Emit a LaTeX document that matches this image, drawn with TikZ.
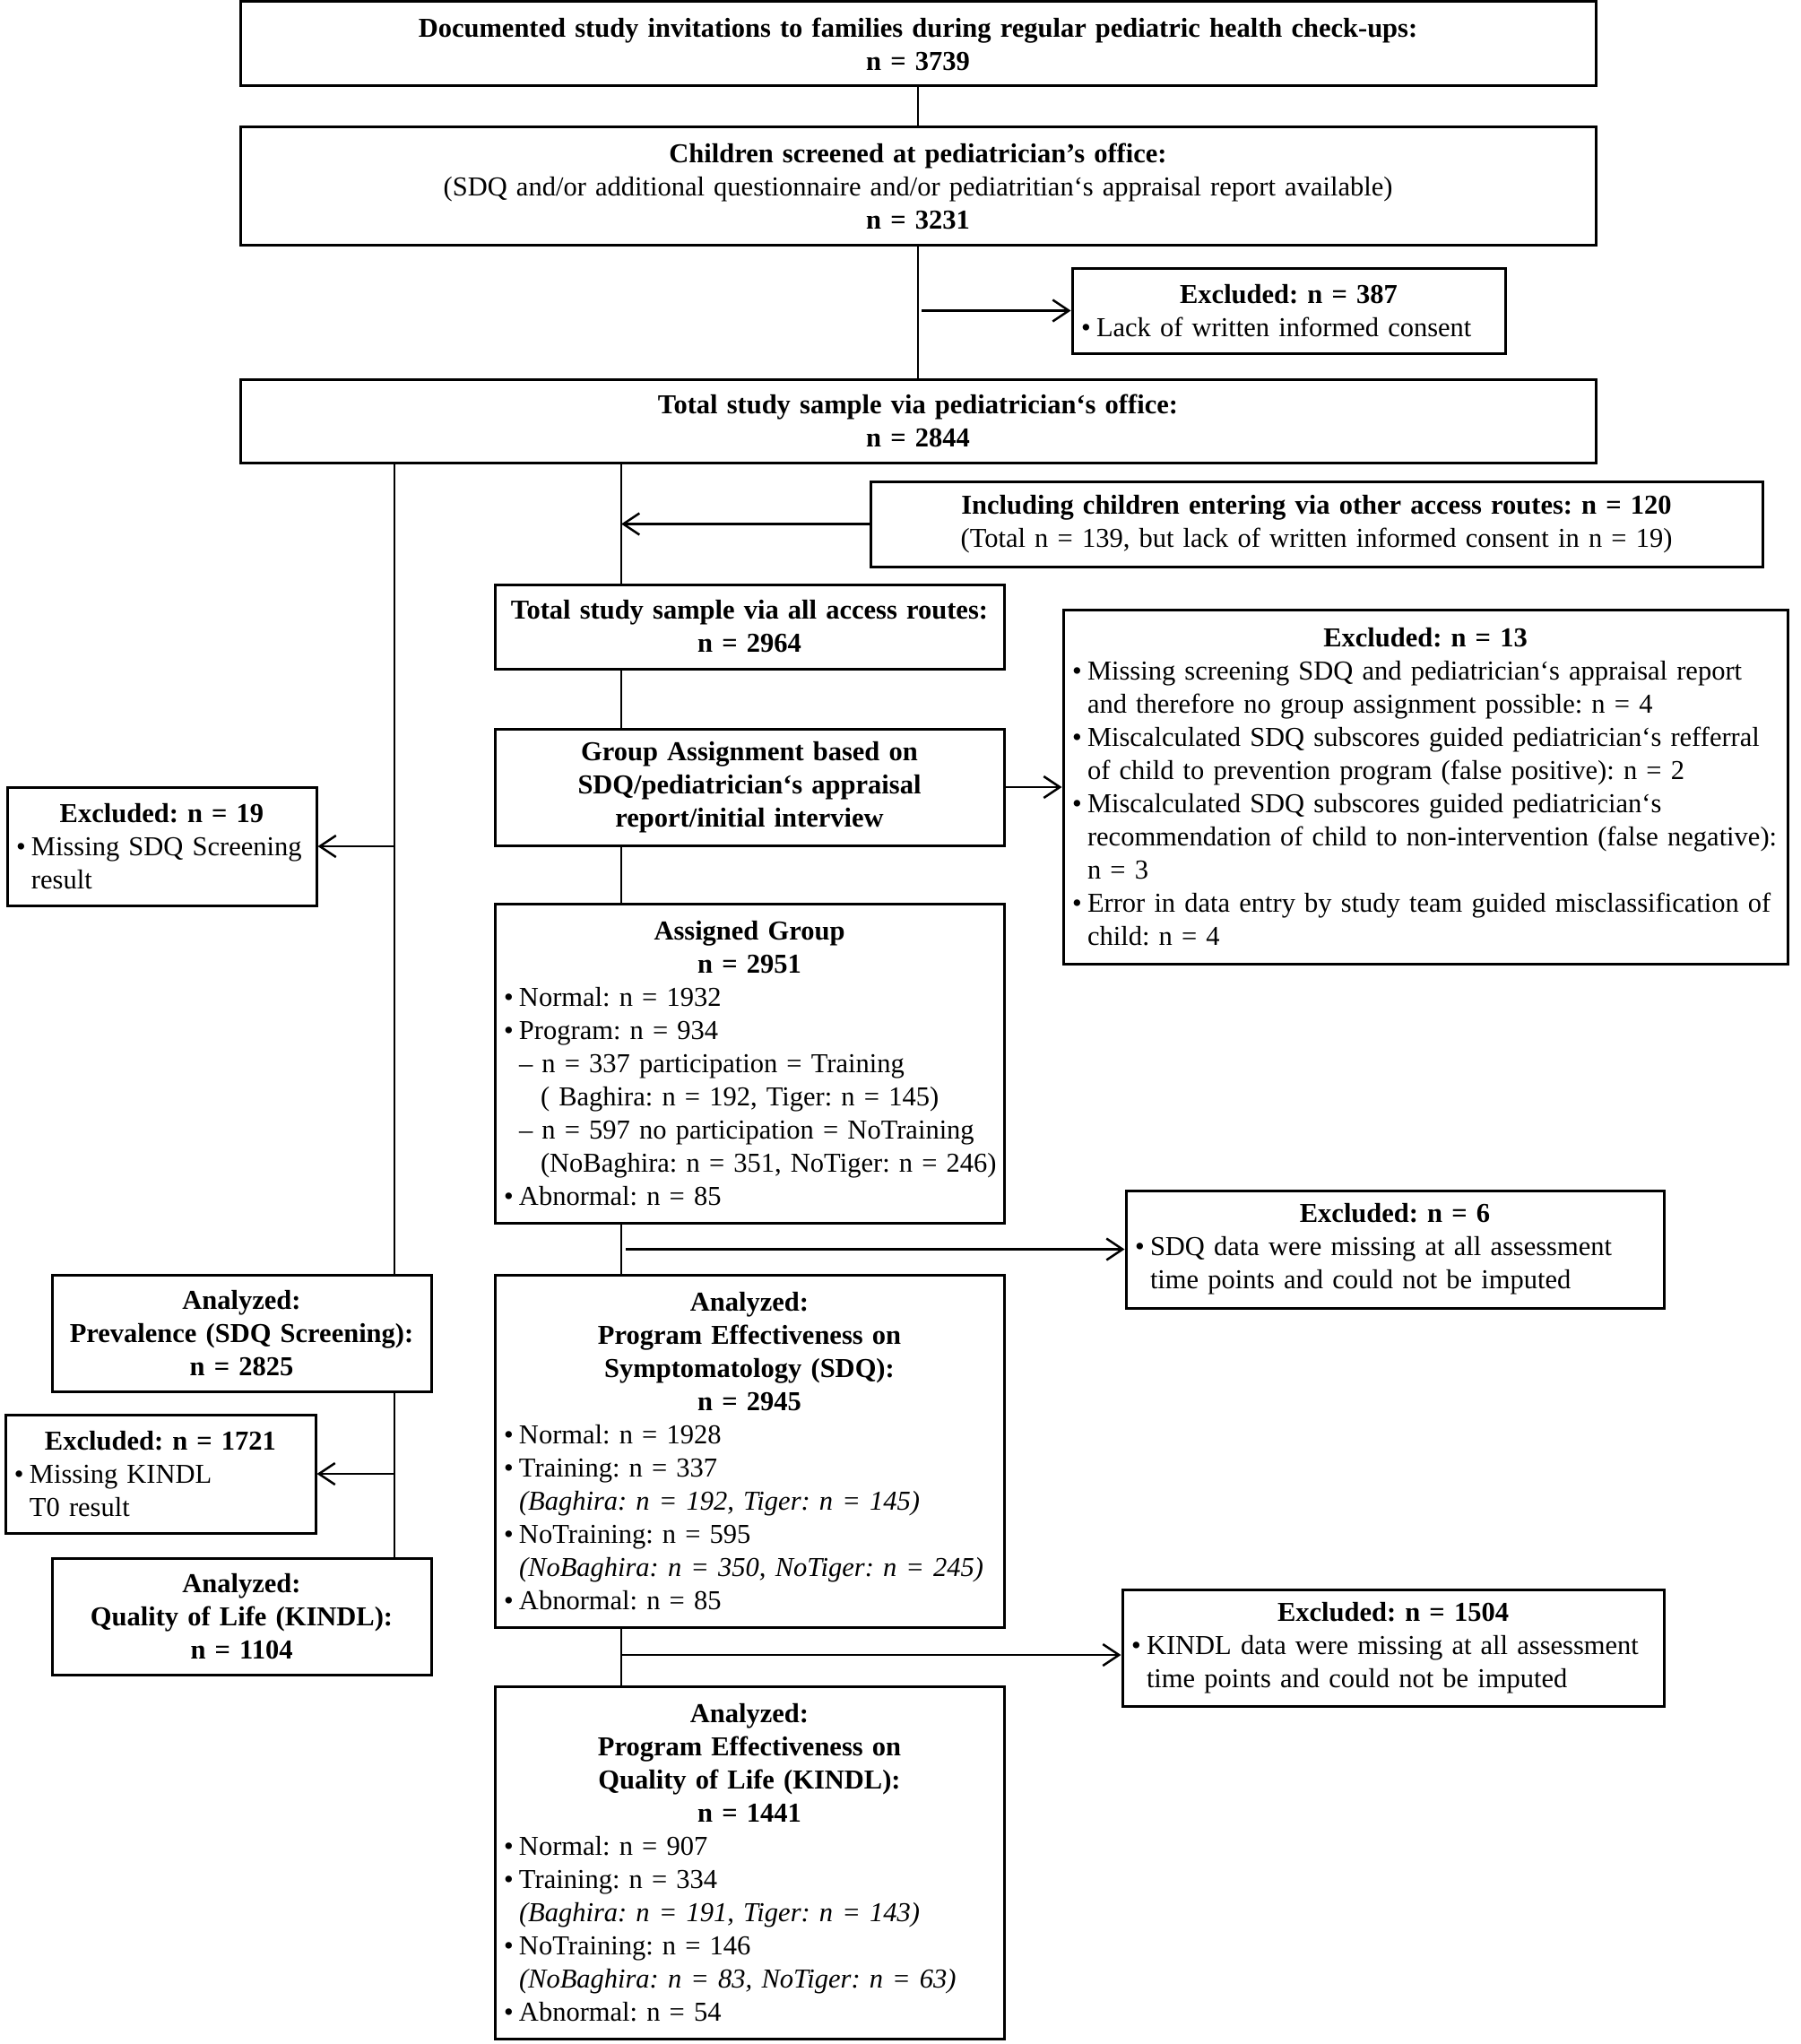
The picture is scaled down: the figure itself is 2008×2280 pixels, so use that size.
\documentclass[tikz,border=0pt]{standalone}
\usepackage{fontspec}
\setmainfont[WordSpace=0.65]{Liberation Serif}
\usetikzlibrary{arrows.meta}
\setlength{\parindent}{0pt}
\frenchspacing
\newcommand{\hd}[1]{{\centering\bfseries #1\par}}
\newcommand{\bul}{\makebox[17pt][l]{•}}
\newcommand{\ind}{\hspace*{17pt}}
\tikzset{
  box/.style={draw, line width=3pt, inner xsep=10pt, inner ysep=0pt, font=\fontsize{30.5}{37}\selectfont\frenchspacing},
  cbox/.style={box, align=center},
  lbox/.style={box, align=left},
  conn/.style={line width=2.5pt},
  arr/.style={conn, -{Straight Barb[length=18pt,width=24pt]}},
}
\begin{document}
\begin{tikzpicture}[x=1pt,y=-1pt]
\useasboundingbox (0,0) rectangle (2008,2280);
\fill[white] (0,0) rectangle (2008,2280);
\coordinate (L) at (440,0);
\coordinate (M) at (693,0);

\node[cbox, text width=1492pt, minimum height=94pt] (top) at (1024,49)
 {\textbf{Documented study invitations to families during regular pediatric health check-ups:}\\\textbf{n = 3739}};
\node[cbox, text width=1492pt, minimum height=131pt] (scr) at (1024,207.5)
 {\textbf{Children screened at pediatrician’s office:}\\(SDQ and/or additional questionnaire and/or pediatritian‘s appraisal report available)\\\textbf{n = 3231}};
\node[lbox, text width=463pt, minimum height=95pt] (ex387) at (1437.5,346.5)
 {\hd{Excluded: n = 387}\bul\mbox{Lack of written informed consent}};
\node[cbox, text width=1492pt, minimum height=93pt] (tot) at (1024,469.5)
 {\textbf{Total study sample via pediatrician‘s office:}\\\textbf{n = 2844}};
\node[cbox, text width=975pt, minimum height=95pt] (incl) at (1468.5,584.5)
 {\textbf{Including children entering via other access routes: n = 120}\\(Total n = 139, but lack of written informed consent in n = 19)};
\node[cbox, text width=548pt, minimum height=94pt] (acc) at (836,699)
 {\textbf{Total study sample via all access routes:}\\\textbf{n = 2964}};
\node[lbox, text width=788pt, minimum height=395pt] (ex13) at (1590,877.5)
 {\hd{Excluded: n = 13}%
 \bul\mbox{Missing screening SDQ and pediatrician‘s appraisal report}\\
 \ind\mbox{and therefore no group assignment possible: n = 4}\\
 \bul\mbox{Miscalculated SDQ subscores guided pediatrician‘s refferral}\\
 \ind\mbox{of child to prevention program (false positive): n = 2}\\
 \bul\mbox{Miscalculated SDQ subscores guided pediatrician‘s}\\
 \ind\mbox{recommendation of child to non-intervention (false negative):}\\
 \ind\mbox{n = 3}\\
 \bul\mbox{Error in data entry by study team guided misclassification of}\\
 \ind\mbox{child: n = 4}};
\node[cbox, text width=548pt, minimum height=130pt] (grp) at (836,878)
 {\textbf{Group Assignment based on}\\\textbf{SDQ/pediatrician‘s appraisal}\\\textbf{report/initial interview}};
\node[lbox, text width=325pt, minimum height=132pt] (ex19) at (180.5,944)
 {\hd{Excluded: n = 19}\bul\mbox{Missing SDQ Screening}\\\ind\mbox{result}};
\node[lbox, text width=548pt, minimum height=356pt] (asg) at (836,1186)
 {\hd{Assigned Group}\hd{n = 2951}%
 \bul\mbox{Normal: n = 1932}\\
 \bul\mbox{Program: n = 934}\\
 \ind\mbox{– n = 337 participation = Training}\\
 \ind\hspace*{24pt}\mbox{( Baghira: n = 192, Tiger: n = 145)}\\
 \ind\mbox{– n = 597 no participation = NoTraining}\\
 \ind\hspace*{24pt}\mbox{(NoBaghira: n = 351, NoTiger: n = 246)}\\
 \bul\mbox{Abnormal: n = 85}};
\node[lbox, text width=580pt, minimum height=131pt] (ex6) at (1556,1393.5)
 {\hd{Excluded: n = 6}\bul\mbox{SDQ data were missing at all assessment}\\\ind\mbox{time points and could not be imputed}};
\node[cbox, text width=403pt, minimum height=130pt] (prev) at (269.5,1487)
 {\textbf{Analyzed:}\\\textbf{Prevalence (SDQ Screening):}\\\textbf{n = 2825}};
\node[lbox, text width=548pt, minimum height=393pt] (sdq) at (836,1618.5)
 {\hd{Analyzed:}\hd{Program Effectiveness on}\hd{Symptomatology (SDQ):}\hd{n = 2945}%
 \bul\mbox{Normal: n = 1928}\\
 \bul\mbox{Training: n = 337}\\
 \ind\mbox{\itshape (Baghira: n = 192, Tiger: n = 145)}\\
 \bul\mbox{NoTraining: n = 595}\\
 \ind\mbox{\itshape (NoBaghira: n = 350, NoTiger: n = 245)}\\
 \bul\mbox{Abnormal: n = 85}};
\node[lbox, text width=326pt, minimum height=132pt] (ex1721) at (179,1644)
 {\hd{Excluded: n = 1721}\bul\mbox{Missing KINDL}\\\ind\mbox{T0 result}};
\node[cbox, text width=403pt, minimum height=130pt] (qol) at (269.5,1803)
 {\textbf{Analyzed:}\\\textbf{Quality of Life (KINDL):}\\\textbf{n = 1104}};
\node[lbox, text width=584pt, minimum height=130pt] (ex1504) at (1554,1838)
 {\hd{Excluded: n = 1504}\bul\mbox{KINDL data were missing at all assessment}\\\ind\mbox{time points and could not be imputed}};
\node[lbox, text width=548pt, minimum height=393pt] (kin) at (836,2077.5)
 {\hd{Analyzed:}\hd{Program Effectiveness on}\hd{Quality of Life (KINDL):}\hd{n = 1441}%
 \bul\mbox{Normal: n = 907}\\
 \bul\mbox{Training: n = 334}\\
 \ind\mbox{\itshape (Baghira: n = 191, Tiger: n = 143)}\\
 \bul\mbox{NoTraining: n = 146}\\
 \ind\mbox{\itshape (NoBaghira: n = 83, NoTiger: n = 63)}\\
 \bul\mbox{Abnormal: n = 54}};

% connectors
\coordinate (a387) at (1028,346.5);
\coordinate (a6) at (698,1393.5);
\coordinate (a1504) at (693,1846);
\draw[conn] (top.south) -- (scr.north);
\draw[conn] (scr.south) -- (tot.north);
\draw[arr] (a387) -- (ex387.west);
\draw[conn] (tot.south -| L) -- (prev.north -| L);
\draw[conn] (tot.south -| M) -- (acc.north -| M);
\draw[arr] (incl.west) -- (incl.west -| M);
\draw[conn] (acc.south -| M) -- (grp.north -| M);
\draw[arr] (grp.east) -- (grp.east -| ex13.west);
\draw[conn] (grp.south -| M) -- (asg.north -| M);
\draw[arr] (L |- ex19.east) -- (ex19.east);
\draw[conn] (asg.south -| M) -- (sdq.north -| M);
\draw[arr] (a6) -- (ex6.west);
\draw[conn] (sdq.south -| M) -- (kin.north -| M);
\draw[arr] (a1504) -- (a1504 -| ex1504.west);
\draw[conn] (prev.south -| L) -- (qol.north -| L);
\draw[arr] (L |- ex1721.east) -- (ex1721.east);
\end{tikzpicture}
\end{document}
